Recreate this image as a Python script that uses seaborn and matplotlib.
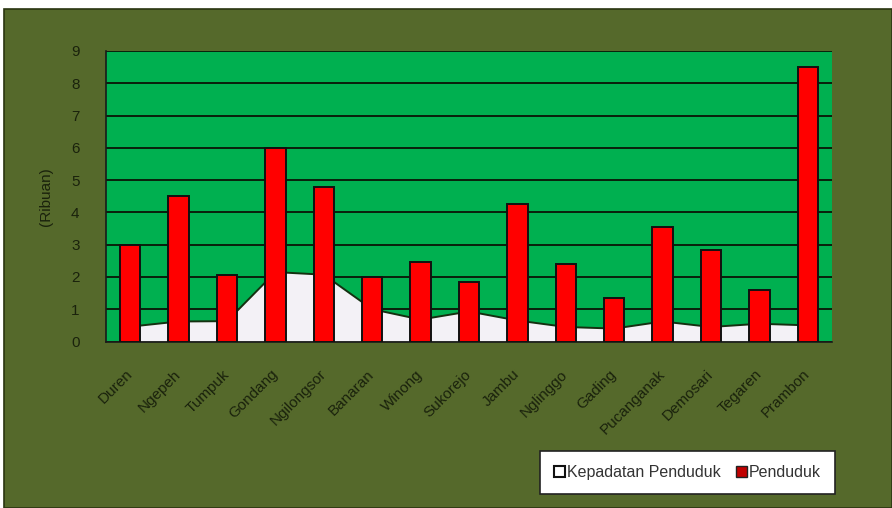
import matplotlib
matplotlib.use("Agg")
import matplotlib.pyplot as plt
from matplotlib.patches import Rectangle, Patch
from matplotlib.ticker import FixedLocator
import seaborn as sns
import numpy as np
import pandas as pd

categories = ["Duren", "Ngepeh", "Tumpuk", "Gondang", "Ngilongsor", "Banaran", "Winong",
              "Sukorejo", "Jambu", "Nglinggo", "Gading", "Pucanganak", "Demosari",
              "Tegaren", "Prambon"]
penduduk = [3.0, 4.5, 2.05, 6.0, 4.8, 2.0, 2.45, 1.85, 4.25, 2.4, 1.35, 3.55, 2.85, 1.6, 8.5]
kepadatan = [0.46, 0.62, 0.63, 2.15, 2.07, 1.0, 0.68, 0.93, 0.65, 0.45, 0.4, 0.62, 0.45, 0.55, 0.5]
y_ticks = [0, 1, 2, 3, 4, 5, 6, 7, 8, 9]

sns.set_style("white")
plt.rcParams['font.family'] = ['Liberation Sans', 'DejaVu Sans']

OLIVE = "#55692b"
GREEN = "#00b050"
TXT = "#1a220c"

fig = plt.figure(figsize=(8.92, 5.08), dpi=100)
fig.patch.set_facecolor("white")
fig.add_artist(Rectangle((4 / 892, 0), 1 - 4 / 892, 1 - 9 / 508, transform=fig.transFigure,
                         facecolor=OLIVE, edgecolor="#2a3510", lw=1.2, zorder=0))

ax = fig.add_axes([106 / 892, 1 - 341.5 / 508, (832 - 106) / 892, (341.5 - 51) / 508])
ax.set_facecolor(GREEN)

df = pd.DataFrame({"Desa": categories, "Penduduk": penduduk, "Kepadatan": kepadatan})
xs = np.arange(len(categories))

ax.fill_between(xs, df["Kepadatan"], 0, facecolor="#f3f1f6", edgecolor="none", zorder=2)
sns.lineplot(x=xs, y=df["Kepadatan"], ax=ax, color="#143010", lw=1.4, zorder=2.5)
sns.barplot(data=df, x="Desa", y="Penduduk", color="#ff0000", saturation=1, width=0.42,
            edgecolor="#111111", linewidth=1.4, ax=ax, zorder=3)

ax.set_xlim(-0.5, len(categories) - 0.5)
ax.set_ylim(0, 9)
ax.set_yticks(y_ticks)
ax.yaxis.grid(True, color="#0a200c", lw=1.4, zorder=1)
ax.set_axisbelow(True)
ax.set_xlabel("")
ax.set_ylabel("(Ribuan)", fontsize=11, color=TXT, labelpad=13)

for s in ["top", "right"]:
    ax.spines[s].set_visible(False)
for s in ["left", "bottom"]:
    ax.spines[s].set_color("#1a1a1a")
    ax.spines[s].set_linewidth(1.2)

ax.tick_params(axis="y", direction="out", length=5, width=1.2, color="#1a1a1a",
               labelsize=11, labelcolor=TXT, pad=14)
ax.set_xticks(xs)
ax.set_xticklabels(categories, rotation=45, ha="right", va="center", rotation_mode="anchor",
                   fontsize=11, color=TXT)
ax.tick_params(axis="x", which="major", length=0, pad=22)
ax.xaxis.set_minor_locator(FixedLocator(np.arange(-0.5, len(categories), 1.0)))
ax.tick_params(axis="x", which="minor", direction="inout", length=5, width=1, color="#333333")

handles = [Patch(facecolor="white", edgecolor="#111111", lw=1.5, label="Kepadatan Penduduk"),
           Patch(facecolor="#c00000", edgecolor="#222222", lw=1.0, label="Penduduk")]
leg = fig.legend(handles=handles, loc="center", bbox_to_anchor=(687.5 / 892, 1 - 472.5 / 508),
                 ncol=2, frameon=True, fancybox=False, fontsize=11.5, handlelength=0.7,
                 handleheight=0.7, handletextpad=0.15, columnspacing=0.9, borderpad=0.85,
                 labelcolor="#333333", framealpha=1)
leg.get_frame().set_edgecolor("#222222")
leg.get_frame().set_linewidth(1.2)
leg.get_frame().set_facecolor("white")

fig.savefig("out.png", dpi=100, facecolor=fig.get_facecolor())
